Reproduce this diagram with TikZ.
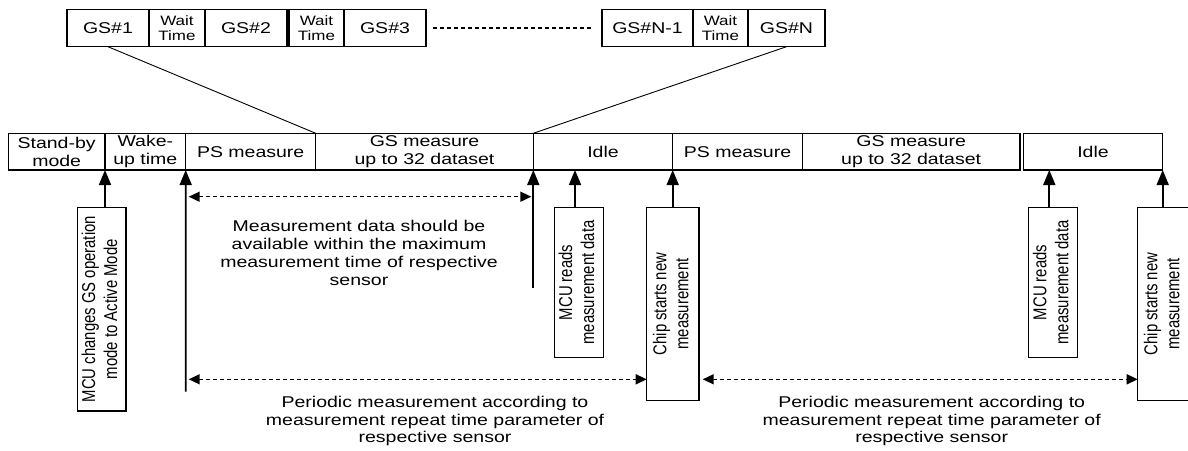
\documentclass[tikz,border=0pt]{standalone}
\usepackage{fontspec}
\usepackage{graphicx}
\setmainfont{Liberation Sans}
\newfontfamily\widef[FakeStretch=1.25]{Liberation Sans}
\newfontfamily\narrowf[FakeStretch=0.8]{Liberation Sans}
\usetikzlibrary{arrows.meta}
\newcommand{\vtext}[2]{\rotatebox{90}{\narrowf\fontsize{18.6}{22}\selectfont\begin{tabular}{@{}c@{}}#1\\#2\end{tabular}}}
\begin{document}
\begin{tikzpicture}[x=1pt,y=-1pt,
  box/.style={draw, line width=1.5pt, inner sep=0pt, outer sep=0pt, anchor=north west, align=center,
              font=\widef\fontsize{15.6}{18}\selectfont},
  wbox/.style={box, font=\widef\fontsize{13.6}{15.7}\selectfont},
  vbox/.style={draw, line width=1.5pt, inner sep=0pt, outer sep=0pt, anchor=north west},
  up/.style={line width=1.7pt, -{Triangle[length=15pt,width=12pt]}},
  dim/.style={line width=1.5pt, dash pattern=on 4pt off 3pt,
              {Triangle[length=11pt,width=10pt]}-{Triangle[length=11pt,width=10pt]}},
  thin/.style={line width=0.9pt},
  note/.style={align=center, inner sep=0pt, font=\widef\fontsize{15.6}{18}\selectfont},
  note2/.style={align=center, inner sep=0pt, font=\widef\fontsize{15.6}{17.3}\selectfont}
]
\fill[white] (0,0) rectangle (1188,450);
\useasboundingbox (0,0) rectangle (1188,450);

% top row
\node[box, minimum width=82pt, minimum height=37.4pt] (t1) at (67,9.3) {GS\#1};
\node[wbox, minimum width=56pt, minimum height=37.4pt] (t2) at (149,9.3) {Wait\\Time};
\node[box, minimum width=82pt, minimum height=37.4pt] (t3) at (205,9.3) {GS\#2};
\node[wbox, minimum width=55pt, minimum height=37.4pt] (t4) at (289,9.3) {Wait\\Time};
\node[box, minimum width=82pt, minimum height=37.4pt] (t5) at (344,9.3) {GS\#3};
\node[box, minimum width=91pt, minimum height=37.4pt] (t6) at (602,9.3) {GS\#N-1};
\node[wbox, minimum width=55pt, minimum height=37.4pt] (t7) at (693,9.3) {Wait\\Time};
\node[box, minimum width=77pt, minimum height=37.4pt] (t8) at (748,9.3) {GS\#N};
\draw[line width=1.3pt, dash pattern=on 4pt off 3pt, shorten <=7pt, shorten >=9pt] (t5.east) -- (t6.west);

% timeline
\node[box, minimum width=96.7pt, minimum height=36.7pt] (sb) at (8.3,133.3) {Stand-by\\mode};
\node[box, minimum width=80.7pt, minimum height=36.7pt] (wk) at (105,133.3) {Wake-\\up time};
\node[box, minimum width=130pt, minimum height=36.7pt] (pm1) at (185.7,133.3) {PS measure};
\node[box, minimum width=217.6pt, minimum height=36.7pt] (gm1) at (315.7,133.3) {GS measure\\up to 32 dataset};
\node[box, minimum width=139.4pt, minimum height=36.7pt] (id1) at (533.3,133.3) {Idle};
\node[box, minimum width=129.6pt, minimum height=36.7pt] (pm2) at (672.7,133.3) {PS measure};
\node[box, minimum width=217.7pt, minimum height=36.7pt] (gm2) at (802.3,133.3) {GS measure\\up to 32 dataset};
\node[box, minimum width=139.4pt, minimum height=36.7pt] (id2) at (1023.3,133.3) {Idle};

% zoom lines
\draw[thin] (t1.south) -- (pm1.north east);
\draw[thin] (t8.south) -- (gm1.north east);

% vertical boxes
\node[vbox, minimum width=48.7pt, minimum height=203.7pt] (mc) at (77.3,207.3) {\vtext{MCU changes GS operation}{mode to Active Mode}};
\node[vbox, minimum width=49pt, minimum height=150.4pt] (mr1) at (554.3,207.3) {\vtext{MCU reads}{measurement data}};
\node[vbox, minimum width=52.3pt, minimum height=193.4pt] (cs1) at (646.7,207.3) {\vtext{Chip starts new}{measurement}};
\node[vbox, minimum width=49.4pt, minimum height=150.4pt] (mr2) at (1028.3,207.3) {\vtext{MCU reads}{measurement data}};
\node[vbox, minimum width=52.3pt, minimum height=193.4pt] (cs2) at (1137.7,207.3) {\vtext{Chip starts new}{measurement}};

% coordinates
\coordinate (v1) at (185.7,391.7);
\coordinate (v2) at (533.3,288.3);
\coordinate (i1) at (575,0);
\coordinate (i2) at (1049.3,0);
\coordinate (d1s) at (185.7,196.7);
\coordinate (d1e) at (533.3,196.7);
\coordinate (d2s) at (185.7,379.3);
\coordinate (d3s) at (702.7,379.3);

% up arrows
\draw[up] (mc.north -| sb.south east) -- (sb.south east);
\draw[up] (v1) -- (wk.south east);
\draw[up] (v2) -- (gm1.south east);
\draw[up] (mr1.north -| i1) -- (i1 |- id1.south);
\draw[up] (cs1.north -| id1.south east) -- (id1.south east);
\draw[up] (mr2.north -| i2) -- (i2 |- id2.south);
\draw[up] (cs2.north -| id2.south east) -- (id2.south east);

% dimension arrows
\draw[dim] ([xshift=3pt]d1s) -- ([xshift=-2pt]d1e);
\draw[dim] ([xshift=3pt]d2s) -- (d2s -| cs1.west);
\draw[dim] (d3s) -- (d3s -| cs2.west);

% notes
\node[note] (n1) at (359,253) {Measurement data should be\\available within the maximum\\measurement time of respective\\sensor};
\node[note2] (p1) at (435,421) {Periodic measurement according to\\measurement repeat time parameter of\\respective sensor};
\node[note2] (p2) at (931.7,421) {Periodic measurement according to\\measurement repeat time parameter of\\respective sensor};
\end{tikzpicture}
\end{document}
